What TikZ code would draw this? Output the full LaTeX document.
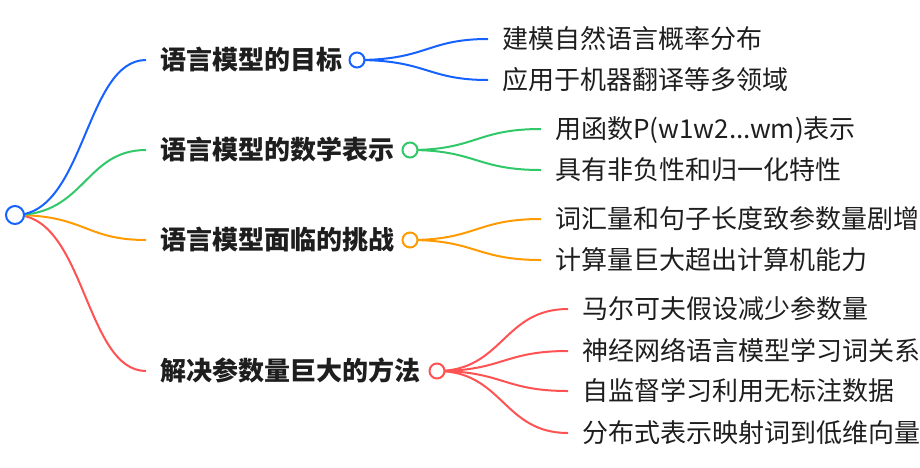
\documentclass[tikz,border=0pt]{standalone}
\usepackage{fontspec}
\setmainfont{Noto Sans CJK SC}
\definecolor{cblue}{RGB}{22,98,255}
\definecolor{cgreen}{RGB}{48,200,104}
\definecolor{corange}{RGB}{255,155,0}
\definecolor{cred}{RGB}{255,82,82}
\definecolor{ctext}{RGB}{30,30,30}
\begin{document}
\begin{tikzpicture}[x=1pt,y=-1pt,
  lvl/.style={anchor=west,inner sep=0pt,text=ctext,font=\fontsize{26pt}{30pt}\selectfont\bfseries,text height=21pt,text depth=2pt},
  leaf/.style={anchor=west,inner sep=0pt,text=ctext,font=\fontsize{26pt}{30pt}\selectfont,text height=21pt,text depth=2pt},
  dot/.style={circle,draw=#1,line width=2pt,fill=white,minimum size=15pt,inner sep=0pt},
  rootdot/.style={circle,draw=#1,line width=2pt,fill=white,minimum size=18pt,inner sep=0pt},
  link/.style={draw=#1,line width=2pt}
]
\useasboundingbox (0,0) rectangle (920,467);

% level-1 labels
\node[lvl] (l1) at (160,60) {语言模型的目标};
\node[lvl] (l2) at (160,150) {语言模型的数学表示};
\node[lvl] (l3) at (160,240) {语言模型面临的挑战};
\node[lvl] (l4) at (160,371) {解决参数量巨大的方法};

% leaves
\node[leaf] (a1) at (502,39) {建模自然语言概率分布};
\node[leaf] (a2) at (502,80) {应用于机器翻译等多领域};
\node[leaf] (b1) at (555,129) {用函数P(w1w2...wm)表示};
\node[leaf] (b2) at (555,170) {具有非负性和归一化特性};
\node[leaf] (d1) at (555,219) {词汇量和句子长度致参数量剧增};
\node[leaf] (d2) at (555,260) {计算量巨大超出计算机能力};
\node[leaf] (e1) at (582,309) {马尔可夫假设减少参数量};
\node[leaf] (e2) at (582,351) {神经网络语言模型学习词关系};
\node[leaf] (e3) at (582,391) {自监督学习利用无标注数据};
\node[leaf] (e4) at (582,433) {分布式表示映射词到低维向量};

% end points of connectors
\coordinate (r1) at ([xshift=-14pt]l1.west);
\coordinate (r2) at ([xshift=-14pt]l2.west);
\coordinate (r3) at ([xshift=-14pt]l3.west);
\coordinate (r4) at ([xshift=-14pt]l4.west);
\coordinate (ea1) at ([xshift=-14pt]a1.west);
\coordinate (ea2) at ([xshift=-14pt]a2.west);
\coordinate (eb1) at ([xshift=-14pt]b1.west);
\coordinate (eb2) at ([xshift=-14pt]b2.west);
\coordinate (ed1) at ([xshift=-14pt]d1.west);
\coordinate (ed2) at ([xshift=-14pt]d2.west);
\coordinate (ee1) at ([xshift=-14pt]e1.west);
\coordinate (ee2) at ([xshift=-14pt]e2.west);
\coordinate (ee3) at ([xshift=-14pt]e3.west);
\coordinate (ee4) at ([xshift=-14pt]e4.west);

\coordinate (root) at (15,215);
\coordinate (c1) at (357,60);
\coordinate (c2) at (410,150);
\coordinate (c3) at (410,240);
\coordinate (c4) at (437,371);

% root connectors
\draw[link=cred]    (root) .. controls (85,215) and (85,371) .. (r4);
\draw[link=corange] (root) .. controls (85,215) and (85,240) .. (r3);
\draw[link=cgreen]  (root) .. controls (85,215) and (85,150) .. (r2);
\draw[link=cblue]   (root) .. controls (85,215) and (85,60) .. (r1);

% child connectors
\draw[link=cblue] (c1) .. controls (427,60) and (427,39) .. (ea1);
\draw[link=cblue] (c1) .. controls (427,60) and (427,80) .. (ea2);
\draw[link=cgreen] (c2) .. controls (476,150) and (476,129) .. (eb1);
\draw[link=cgreen] (c2) .. controls (476,150) and (476,170) .. (eb2);
\draw[link=corange] (c3) .. controls (476,240) and (476,219) .. (ed1);
\draw[link=corange] (c3) .. controls (476,240) and (476,260) .. (ed2);
\draw[link=cred] (c4) .. controls (503,371) and (503,309) .. (ee1);
\draw[link=cred] (c4) .. controls (503,371) and (503,351) .. (ee2);
\draw[link=cred] (c4) .. controls (503,371) and (503,391) .. (ee3);
\draw[link=cred] (c4) .. controls (503,371) and (503,433) .. (ee4);

% circles
\node[rootdot=cblue] (rootc) at (root) {};
\node[dot=cblue] (k1) at (c1) {};
\node[dot=cgreen] (k2) at (c2) {};
\node[dot=corange] (k3) at (c3) {};
\node[dot=cred] (k4) at (c4) {};
\end{tikzpicture}
\end{document}
